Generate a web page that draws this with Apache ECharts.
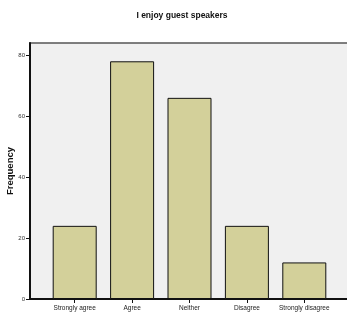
<!DOCTYPE html>
<html>
	<head>
		<meta charset="UTF-8">
		<title>I enjoy guest speakers</title>
		<script src="https://cdn.jsdelivr.net/npm/echarts@6/dist/echarts.min.js"></script>
	</head>
	<body style="margin:0;background:#fff;">
		<div id="chart" style="width:347px;height:317px;"></div>
		<script>
			// 数据
			var categories = ["Strongly agree", "Agree", "Neither", "Disagree", "Strongly disagree"];
			var frequency = [24, 78, 66, 24, 12];
			var yTicks = [0, 20, 40, 60, 80];

			var font = '"Liberation Sans", Arial, sans-serif';

			var option = {
				animation: false,
				title: {
					text: 'I enjoy guest speakers',
					left: 177, top: 6, textAlign: 'center',
					textStyle: {fontFamily: font, fontSize: 8.5, fontWeight: 'bold', color: '#111'}
				},
				grid: [
					// 外框
					{left: 30, right: -3, top: 43, bottom: 18, show: true, outerBoundsMode: 'none',
						backgroundColor: '#f0f0f0', borderColor: '#555', borderWidth: 1.5},
					// 柱子
					{left: 46, right: 14, top: 43, bottom: 18, outerBoundsMode: 'none'}
				],
				xAxis: [
					{
						gridIndex: 0, type: 'value', min: 0, max: 1,
						axisLine: {show: true, onZero: false, lineStyle: {color: '#111', width: 2}},
						axisTick: {show: false}, axisLabel: {show: false}, splitLine: {show: false}
					},
					{
						gridIndex: 1, type: 'category', data: categories,
						axisLine: {show: false},
						axisTick: {show: true, alignWithLabel: true, length: 4, lineStyle: {color: '#111'}},
						axisLabel: {fontFamily: font, fontSize: 6.5, color: '#222', margin: 6, interval: 0}
					}
				],
				yAxis: [
					{
						gridIndex: 0, type: 'value', min: 0, max: 84,
						name: 'Frequency', nameLocation: 'middle', nameGap: 15, nameMoveOverlap: false,
						nameTextStyle: {fontFamily: font, fontSize: 9.5, fontWeight: 'bold', color: '#111'},
						axisLine: {show: true, lineStyle: {color: '#111', width: 2}},
						axisTick: {show: true, length: 4, customValues: yTicks, lineStyle: {color: '#111', width: 1}},
						axisLabel: {fontFamily: font, fontSize: 6, color: '#333', margin: 5, customValues: yTicks},
						splitLine: {show: false}
					},
					{
						gridIndex: 1, type: 'value', min: 0, max: 84, show: false
					}
				],
				series: [{
					name: 'Frequency',
					type: 'bar',
					xAxisIndex: 1, yAxisIndex: 1,
					barWidth: 44,
					itemStyle: {color: '#d3d09a', borderColor: '#111', borderWidth: 1},
					data: frequency
				}]
			};

			var myChart = echarts.init(document.getElementById('chart'));
			myChart.setOption(option);
		</script>
	</body>
</html>
